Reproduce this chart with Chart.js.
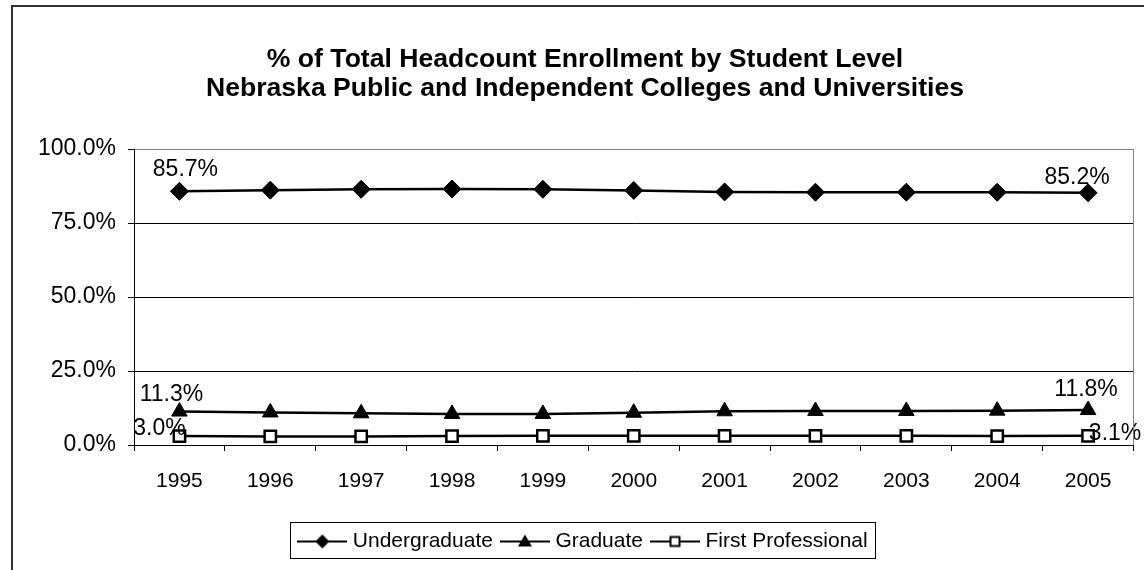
<!DOCTYPE html>
<html>
<head>
<title>% of Total Headcount Enrollment by Student Level</title>
<script src="https://cdn.jsdelivr.net/npm/chart.js@4/dist/chart.umd.min.js"></script>
<style>
  body { margin: 0; background: #fff; }
  #wrap { width: 1144px; height: 570px; }
</style>
</head>
<body>
<div id="wrap"><canvas id="chart" width="1144" height="570"></canvas></div>

<script>
// data
var YEARS = ['1995', '1996', '1997', '1998', '1999', '2000', '2001', '2002', '2003', '2004', '2005'];
var UNDERGRAD = [85.7, 86.1, 86.4, 86.5, 86.4, 86.0, 85.5, 85.4, 85.4, 85.4, 85.2];
var GRADUATE = [11.3, 11.0, 10.7, 10.5, 10.5, 10.9, 11.4, 11.5, 11.5, 11.6, 11.8];
var FIRST_PROF = [3.0, 2.9, 2.9, 3.0, 3.1, 3.1, 3.1, 3.1, 3.1, 3.0, 3.1];
var SERIES_NAMES = ['Undergraduate', 'Graduate', 'First Professional'];
var Y_TICKS = [0, 25, 50, 75, 100];

var FONT = "'Liberation Sans', Arial, sans-serif";

// offsets of the end-point value labels, [first, last] per dataset
var LABEL_OFFSETS = [
    [[6, -22], [-11, -15]],
    [[-8, -17], [-2, -20]],
    [[-20, -7], [27, -2]]
];

function legendIcon(kind) {
    var c = document.createElement('canvas');
    c.width = 50; c.height = 20;
    var g = c.getContext('2d');
    g.strokeStyle = '#000';
    g.lineWidth = 2;
    g.beginPath(); g.moveTo(0, 10); g.lineTo(50, 10); g.stroke();
    g.fillStyle = '#000';
    g.beginPath();
    if (kind === 'diamond') {
        g.moveTo(25, 3); g.lineTo(32, 10); g.lineTo(25, 17); g.lineTo(18, 10); g.closePath(); g.fill();
    } else if (kind === 'triangle') {
        g.moveTo(25, 3); g.lineTo(32, 15); g.lineTo(18, 15); g.closePath(); g.fill();
    } else {
        g.fillStyle = '#fff';
        g.rect(20.5, 5.5, 9, 9); g.fill(); g.stroke();
    }
    return c;
}
var ICONS = [legendIcon('diamond'), legendIcon('triangle'), legendIcon('square')];

var frame = {
    id: 'frame',
    beforeDraw: function(chart) {
        var ctx = chart.ctx;
        ctx.save();
        ctx.fillStyle = '#fff';
        ctx.fillRect(0, 0, chart.width, chart.height);
        ctx.strokeStyle = '#333';
        ctx.lineWidth = 2;
        ctx.strokeRect(12, 6, 1200, 700);
        ctx.restore();
    },
    afterDraw: function(chart) {
        var ctx = chart.ctx, a = chart.chartArea;
        ctx.save();
        ctx.strokeStyle = '#808080';
        ctx.lineWidth = 1;
        ctx.beginPath();
        ctx.moveTo(Math.round(a.right) - 0.5, a.top);
        ctx.lineTo(Math.round(a.right) - 0.5, a.bottom);
        ctx.stroke();
        // legend border
        var lg = chart.legend, hb = lg.legendHitBoxes;
        var l = hb[0].left - 12, r = hb[hb.length - 1].left + hb[hb.length - 1].width + 8;
        var t = hb[0].top - 9, b = hb[0].top + 27;
        ctx.strokeStyle = '#000';
        ctx.strokeRect(Math.round(l) + 0.5, Math.round(t) + 0.5, Math.round(r - l), Math.round(b - t));
        ctx.restore();
    }
};

var endLabels = {
    id: 'endLabels',
    afterDatasetsDraw: function(chart) {
        var ctx = chart.ctx;
        ctx.save();
        ctx.font = '23px ' + FONT;
        ctx.fillStyle = '#000';
        ctx.textAlign = 'center';
        ctx.textBaseline = 'middle';
        chart.data.datasets.forEach(function(ds, d) {
            var pts = chart.getDatasetMeta(d).data;
            [0, pts.length - 1].forEach(function(i, k) {
                var off = LABEL_OFFSETS[d][k];
                ctx.fillText(ds.data[i].toFixed(1) + '%', pts[i].x + off[0], pts[i].y + off[1]);
            });
        });
        ctx.restore();
    }
};

Chart.defaults.color = '#000';
Chart.defaults.font.family = FONT;

new Chart(document.getElementById('chart').getContext('2d'), {
    type: 'line',
    data: {
        labels: YEARS,
        datasets: [{
            label: SERIES_NAMES[0],
            data: UNDERGRAD,
            borderColor: '#000',
            borderWidth: 2.5,
            pointStyle: 'rectRot',
            pointRadius: 9,
            pointBackgroundColor: '#000',
            pointBorderColor: '#000',
            pointBorderWidth: 1
        }, {
            label: SERIES_NAMES[1],
            data: GRADUATE,
            borderColor: '#000',
            borderWidth: 2.5,
            pointStyle: 'triangle',
            pointRadius: 9,
            pointBackgroundColor: '#000',
            pointBorderColor: '#000',
            pointBorderWidth: 1
        }, {
            label: SERIES_NAMES[2],
            data: FIRST_PROF,
            borderColor: '#000',
            borderWidth: 2.5,
            pointStyle: 'rect',
            pointRadius: 8,
            pointBackgroundColor: '#fff',
            pointBorderColor: '#000',
            pointBorderWidth: 2.5
        }]
    },
    options: {
        responsive: false,
        animation: false,
        layout: { padding: { left: 30, right: 4, top: 0, bottom: 8 } },
        plugins: {
            tooltip: { enabled: false },
            title: {
                display: true,
                text: ['% of Total Headcount Enrollment by Student Level',
                       'Nebraska Public and Independent Colleges and Universities'],
                font: { size: 26.6, weight: 'bold', lineHeight: 29 / 26.6 },
                color: '#000',
                padding: { top: 45, bottom: 46 }
            },
            legend: {
                position: 'bottom',
                labels: {
                    usePointStyle: true,
                    pointStyleWidth: 40,
                    padding: 12,
                    font: { size: 21 },
                    color: '#000',
                    generateLabels: function(chart) {
                        var items = Chart.defaults.plugins.legend.labels.generateLabels(chart);
                        items.forEach(function(it, i) { it.pointStyle = ICONS[i]; });
                        return items;
                    }
                }
            }
        },
        scales: {
            x: {
                offset: true,
                afterFit: function(s) { s.height = 74; },
                grid: { offset: true, drawOnChartArea: false, tickLength: 6, color: '#000' },
                border: { color: '#000', width: 1 },
                ticks: { font: { size: 21 }, padding: 18, maxRotation: 0 }
            },
            y: {
                min: 0,
                max: 100,
                afterFit: function(s) { s.width = 104; },
                afterBuildTicks: function(s) { s.ticks = Y_TICKS.map(function(v) { return { value: v }; }); },
                grid: {
                    tickLength: 6,
                    color: function(c) { return c.tick && c.tick.value === 100 ? '#808080' : '#000'; },
                    tickColor: '#000'
                },
                border: { color: '#000', width: 1 },
                ticks: {
                    font: { size: 23 },
                    padding: 12,
                    callback: function(v) { return v.toFixed(1) + '%'; }
                }
            }
        }
    },
    plugins: [frame, endLabels]
});
</script>
</body>
</html>
